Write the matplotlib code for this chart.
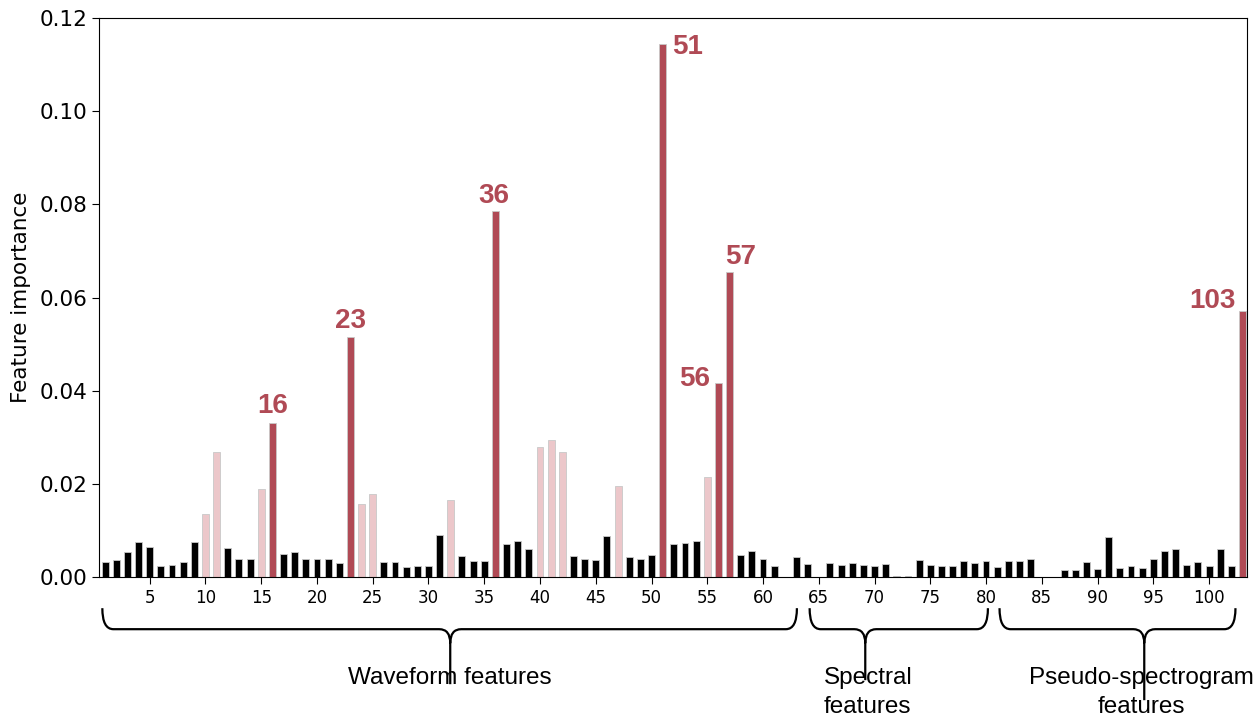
import matplotlib
matplotlib.use('Agg')
import matplotlib.pyplot as plt
import matplotlib.transforms as mtransforms
from matplotlib.path import Path
from matplotlib.patches import PathPatch
import numpy as np

# feature importance for features 1..103
importance = [
    0.0032, 0.0037, 0.0054, 0.0075, 0.0064, 0.0024, 0.0026, 0.0033, 0.0076, 0.0136,
    0.0268, 0.0062, 0.0040, 0.0040, 0.0189, 0.0331, 0.0050, 0.0054, 0.0039, 0.0038,
    0.0039, 0.0031, 0.0515, 0.0158, 0.0179, 0.0032, 0.0032, 0.0021, 0.0025, 0.0023,
    0.0090, 0.0166, 0.0045, 0.0034, 0.0034, 0.0785, 0.0072, 0.0077, 0.0060, 0.0279,
    0.0294, 0.0268, 0.0046, 0.0039, 0.0037, 0.0088, 0.0196, 0.0043, 0.0039, 0.0047,
    0.1144, 0.0071, 0.0073, 0.0077, 0.0215, 0.0416, 0.0654, 0.0048, 0.0057, 0.0039,
    0.0025, 0.0000, 0.0044, 0.0028, 0.0000, 0.0030, 0.0026, 0.0030, 0.0026, 0.0023,
    0.0029, 0.0003, 0.0003, 0.0036, 0.0026, 0.0024, 0.0023, 0.0034, 0.0030, 0.0034,
    0.0021, 0.0034, 0.0035, 0.0038, 0.0000, 0.0000, 0.0016, 0.0016, 0.0032, 0.0018,
    0.0087, 0.0019, 0.0023, 0.0019, 0.0039, 0.0057, 0.0061, 0.0026, 0.0032, 0.0023,
    0.0060, 0.0025, 0.0571,
]
features = list(range(1, len(importance) + 1))

top_features = [16, 23, 36, 51, 56, 57, 103]
second_features = [10, 11, 15, 24, 25, 32, 40, 41, 42, 47, 55]

groups = ['Waveform features', 'Spectral\nfeatures', 'Pseudo-spectrogram\nfeatures']
group_spans = [(0.75, 63.04), (64.18, 80.17), (81.21, 102.37)]
group_tips = [31.95, 69.17, 94.19]

RED = '#b04a55'
PINK = '#ecc7ca'

colors = []
for f in features:
    if f in top_features:
        colors.append(RED)
    elif f in second_features:
        colors.append(PINK)
    else:
        colors.append('black')

fig = plt.figure(figsize=(12.53, 7.17), dpi=100)
ax = fig.add_axes([0.079, 0.195, 0.916, 0.78])

ax.bar(features, importance, width=0.62, color=colors, edgecolor='#c8c8c8', linewidth=0.6)

ax.set_xlim(0.45, 103.38)
ax.set_ylim(0, 0.12)
ax.set_xticks(range(5, 101, 5))
ax.set_yticks(np.arange(0, 0.121, 0.02))
ax.set_yticklabels(['%.2f' % v for v in np.arange(0, 0.121, 0.02)])
ax.tick_params(axis='x', labelsize=12, length=5)
ax.tick_params(axis='y', labelsize=15.5, length=5)
ax.set_ylabel('Feature importance', fontsize=15.5, labelpad=6)

# labels of the most important features (x offset, y offset, ha, va)
offsets = {
    16: (0, 3, 'center', 'bottom'),
    23: (0, 2, 'center', 'bottom'),
    36: (-1, 2, 'center', 'bottom'),
    51: (7, -2, 'left', 'center'),
    56: (-6, 3, 'right', 'center'),
    57: (8, 2, 'center', 'bottom'),
    103: (-5, 7, 'right', 'center'),
}
for f in top_features:
    dx, dy, ha, va = offsets[f]
    ax.annotate(str(f), (f, importance[f - 1]), xytext=(dx, dy), textcoords='offset points',
                ha=ha, va=va, fontsize=20, fontweight='bold', color=RED,
                family='Liberation Sans')

# curly braces under the axis
trans = mtransforms.blended_transform_factory(ax.transData, ax.transAxes)
px = 1.0 / (ax.get_position().height * fig.get_figheight() * fig.dpi)
unit = 1.0 / 11.13  # data units per pixel along x

def brace(x0, x1, xm, y_top, y_mid, y_tip, y_end):
    r = 11 * unit
    verts = [(x0, y_top), (x0, y_mid), (x0 + r, y_mid), (x0 + r, y_mid),
             (xm - r, y_mid), (xm, y_mid), (xm, y_tip), (xm, y_end),
             (xm, y_tip), (xm, y_mid), (xm + r, y_mid), (x1 - r, y_mid),
             (x1, y_mid), (x1, y_top)]
    codes = [Path.MOVETO, Path.CURVE3, Path.CURVE3, Path.LINETO,
             Path.LINETO, Path.CURVE3, Path.CURVE3, Path.LINETO,
             Path.MOVETO, Path.CURVE3, Path.CURVE3, Path.LINETO,
             Path.CURVE3, Path.CURVE3]
    return PathPatch(Path(verts, codes), facecolor='none', edgecolor='black',
                     linewidth=1.6, transform=trans, clip_on=False)

ends = [684, 680, 700]
for (x0, x1), xm, ye in zip(group_spans, group_tips, ends):
    ax.add_patch(brace(x0, x1, xm, -(608 - 577) * px, -(629 - 577) * px,
                       -(643 - 577) * px, -(ye - 577) * px))

text_x = [31.95, 69.4, 93.9]
for g, tx in zip(groups, text_x):
    ax.text(tx, -(667 - 577) * px, g, transform=trans, ha='center', va='top',
            fontsize=17.5, family='Liberation Sans', linespacing=1.38)

fig.savefig('out.png', dpi=100)
